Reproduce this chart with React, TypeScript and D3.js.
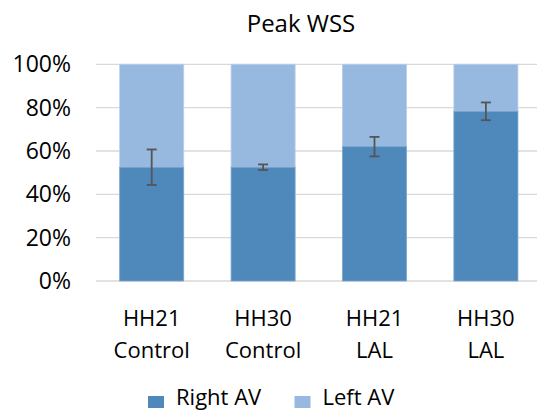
import React from "react";
import * as d3 from "d3";

const categories: string[][] = [
  ["HH21", "Control"],
  ["HH30", "Control"],
  ["HH21", "LAL"],
  ["HH30", "LAL"],
];
const rightAV = [0.525, 0.525, 0.62, 0.783];
const rightErr = [0.082, 0.013, 0.045, 0.041];
const yTicks = [0, 0.2, 0.4, 0.6, 0.8, 1.0];
const seriesNames = ["Right AV", "Left AV"];
const colors = ["#4f88bb", "#97b8df"];

const W = 537;
const H = 412;
const FONT = "'Open Sans', sans-serif";

export default function App() {
  const x = d3
    .scaleBand<number>()
    .domain(d3.range(categories.length))
    .range([96, 541.6])
    .paddingInner(0.425)
    .paddingOuter(0.2125);
  const y = d3.scaleLinear().domain([0, 1]).range([281, 64.3]);
  const fmt = d3.format(".0%");
  const bw = x.bandwidth();

  return (
    <svg
      width={W}
      height={H}
      style={{ position: "absolute", left: 0, top: 0, background: "#fff" }}
      fontFamily={FONT}
    >
      <text x={301} y={32} textAnchor="middle" fontSize={24} fill="#000">
        Peak WSS
      </text>
      {yTicks.map((t) => (
        <g key={t}>
          <line x1={96} x2={W} y1={y(t)} y2={y(t)} stroke="#d9d9d9" strokeWidth={1.3} />
          <text x={71} y={y(t)} dy="0.35em" textAnchor="end" fontSize={23} fill="#000">
            {fmt(t)}
          </text>
        </g>
      ))}
      {rightAV.map((v, i) => {
        const x0 = x(i)!;
        const cx = x0 + bw / 2;
        const e = rightErr[i];
        return (
          <g key={i}>
            <rect x={x0} y={y(1)} width={bw} height={y(v) - y(1)} fill={colors[1]} stroke="#b9cfe9" strokeWidth={0.8} />
            <rect x={x0} y={y(v)} width={bw} height={y(0) - y(v)} fill={colors[0]} stroke="#7aa6d0" strokeWidth={0.8} />
            <line x1={cx} x2={cx} y1={y(v + e)} y2={y(v - e)} stroke="#555" strokeWidth={1.8} />
            <line x1={cx - 5} x2={cx + 5} y1={y(v + e)} y2={y(v + e)} stroke="#555" strokeWidth={1.8} />
            <line x1={cx - 5} x2={cx + 5} y1={y(v - e)} y2={y(v - e)} stroke="#555" strokeWidth={1.8} />
            {categories[i].map((s, k) => (
              <text key={k} x={cx} y={326 + k * 32} textAnchor="middle" fontSize={22} fill="#000">
                {s}
              </text>
            ))}
          </g>
        );
      })}
      {seriesNames.map((n, i) => {
        const lx = [148, 294.5][i];
        return (
          <g key={n}>
            <rect x={lx} y={396} width={16} height={12} fill={colors[i]} />
            <text x={lx + 28} y={405} fontSize={22} fill="#000">
              {n}
            </text>
          </g>
        );
      })}
    </svg>
  );
}
